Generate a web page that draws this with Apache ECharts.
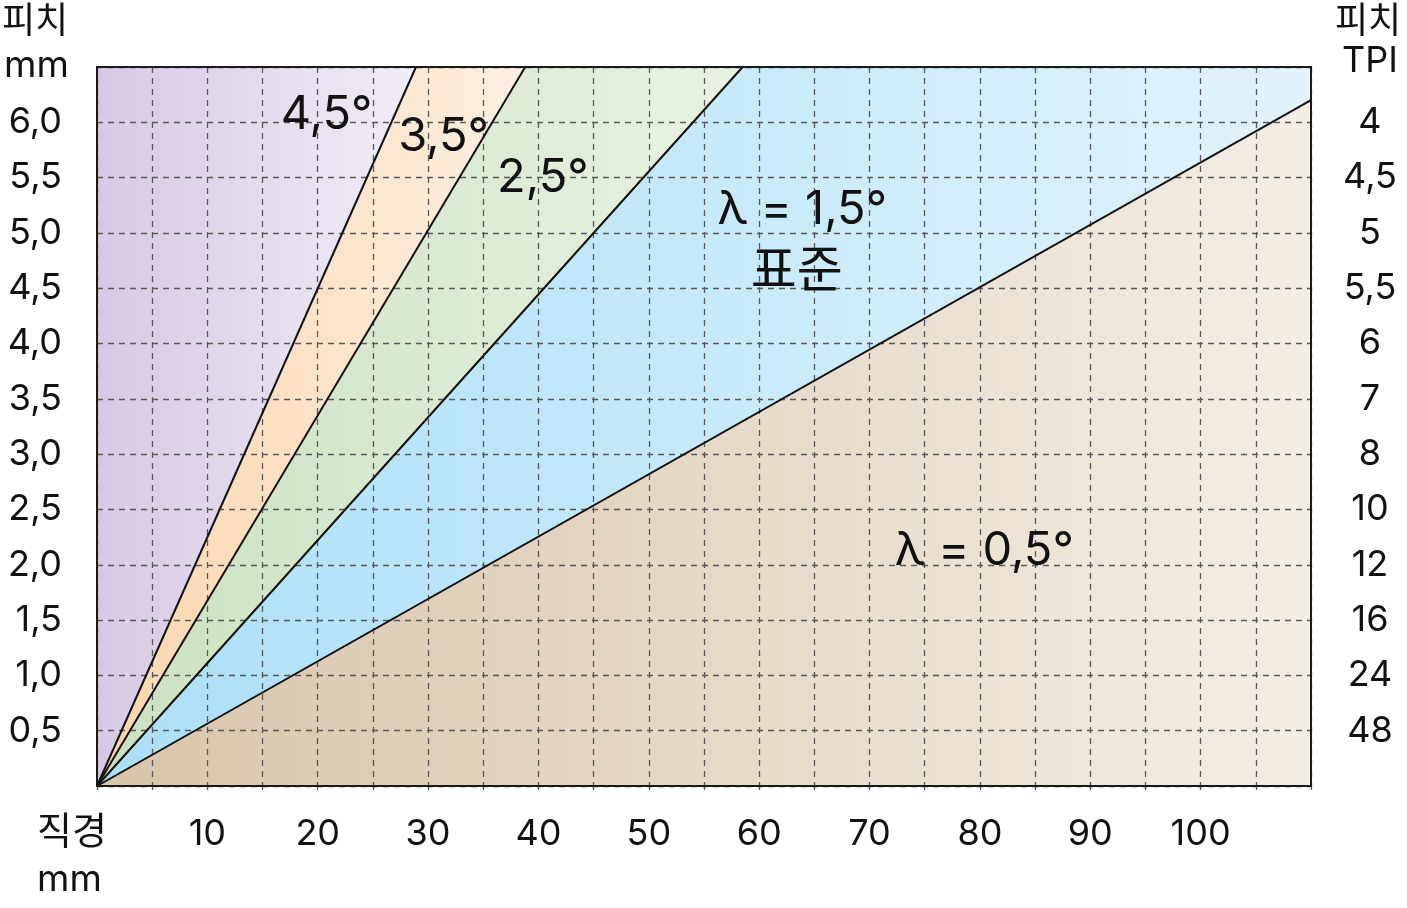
<!DOCTYPE html>
<html><head><meta charset="utf-8">
<script src="https://cdn.jsdelivr.net/npm/echarts@6/dist/echarts.min.js"></script>
<style>html,body{margin:0;padding:0;background:#fff}#c{width:1407px;height:908px}</style>
</head><body><div id="c"></div>
<script>
// ---- data ----
const X_MAX = 110;
const Y_MAX = 6.5;
const xTickValues = [10, 20, 30, 40, 50, 60, 70, 80, 90, 100];
const pitchTicks = [0.5, 1.0, 1.5, 2.0, 2.5, 3.0, 3.5, 4.0, 4.5, 5.0, 5.5, 6.0];
const pitchLabels = ['0,5', '1,0', '1,5', '2,0', '2,5', '3,0', '3,5', '4,0', '4,5', '5,0', '5,5', '6,0'];
const tpiLabels = ['48', '24', '16', '12', '10', '8', '7', '6', '5,5', '5', '4,5', '4'];
const angleNames = ['4,5°', '3,5°', '2,5°', '1,5°'];
const angleLineEnds = [[28.9, 6.5], [38.8, 6.5], [58.5, 6.5], [110, 6.2]];
const annotationTexts = ['4,5°', '3,5°', '2,5°', 'λ = 1,5°', '표준', 'λ = 0,5°'];
const annotationAt = [[20.8, 6.07], [31.4, 5.87], [40.4, 5.50], [63.9, 5.21], [63.4, 4.68], [80.4, 2.13]];

// ---- derived ----
const O = [0, 0];
const regionPolys = [
  [O, angleLineEnds[0], [0, Y_MAX]],
  [O, angleLineEnds[1], angleLineEnds[0]],
  [O, angleLineEnds[2], angleLineEnds[1]],
  [O, angleLineEnds[3], [X_MAX, Y_MAX], angleLineEnds[2]],
  [O, [X_MAX, 0], angleLineEnds[3]]
];
const regionColors = [
  ['#d7c9e3', '#f1edf7'],
  ['#fcd5ad', '#fdf0e1'],
  ['#cae1bf', '#e9f2e3'],
  ['#abdff8', '#e2f3fc'],
  ['#d8c5aa', '#f3ede4']
];
const FONT = "Inter, Lato, 'Noto Sans CJK KR', sans-serif";
const KFONT = "'Noto Sans CJK KR', Inter, sans-serif";

const chart = echarts.init(document.getElementById('c'), null, {renderer: 'canvas'});

const gridLine = {show: true, lineStyle: {color: '#5a5a5a', width: 1.3, type: [6, 5]}};

const lineSeries = angleNames.map((n, i) => ({
  type: 'line', name: n, z: 4, symbol: 'none', silent: true,
  data: [O, angleLineEnds[i]],
  lineStyle: {color: '#111', width: 2}
}));

const option = {
  animation: false,
  backgroundColor: '#fff',
  grid: {left: 97, top: 67, right: 96, bottom: 122, show: true, z: 10,
         backgroundColor: 'transparent', borderColor: '#1a1a1a', borderWidth: 2},
  xAxis: {
    type: 'value', min: 0, max: X_MAX, interval: 5, z: 3,
    axisLine: {show: false},
    axisTick: {show: true, length: 4, lineStyle: {color: '#5a5a5a', width: 1.3}},
    splitLine: gridLine,
    axisLabel: {
      margin: 30, color: '#111', fontSize: 36, fontFamily: FONT,
      formatter: v => xTickValues.indexOf(v) >= 0 ? String(v) : ''
    }
  },
  yAxis: [{
    type: 'value', min: 0, max: Y_MAX, interval: 0.5, z: 3,
    axisLine: {show: false}, axisTick: {show: false},
    splitLine: gridLine,
    axisLabel: {
      margin: 35, color: '#111', fontSize: 36, fontFamily: FONT,
      formatter: v => { const k = pitchTicks.findIndex(t => Math.abs(t - v) < 1e-6); return k >= 0 ? pitchLabels[k] : ''; }
    }
  }, {
    type: 'value', min: 0, max: Y_MAX, interval: 0.5, position: 'right', z: 3,
    axisLine: {show: false}, axisTick: {show: false}, splitLine: {show: false},
    axisLabel: {
      margin: 59, align: 'center', color: '#111', fontSize: 36, fontFamily: FONT,
      formatter: v => { const k = pitchTicks.findIndex(t => Math.abs(t - v) < 1e-6); return k >= 0 ? tpiLabels[k] : ''; }
    }
  }],
  graphic: [
    {type: 'text', left: 2, top: 1, z: 20, style: {text: '피치', fontSize: 36, fontFamily: KFONT, fill: '#111'}},
    {type: 'text', left: 4, top: 47, z: 20, style: {text: 'mm', fontSize: 37, fontFamily: FONT, fill: '#111'}},
    {type: 'text', left: 1335, top: 1, z: 20, style: {text: '피치', fontSize: 36, fontFamily: KFONT, fill: '#111'}},
    {type: 'text', left: 1342, top: 43, z: 20, style: {text: 'TPI', fontSize: 36, fontFamily: FONT, fill: '#111'}},
    {type: 'text', left: 37, top: 811, z: 20, style: {text: '직경', fontSize: 38, fontFamily: KFONT, fill: '#111'}},
    {type: 'text', left: 37, top: 861, z: 20, style: {text: 'mm', fontSize: 37, fontFamily: FONT, fill: '#111'}}
  ],
  series: [{
    type: 'custom', z: 1, silent: true,
    data: regionPolys.map(() => [0, 0]),
    renderItem: function (params, api) {
      const i = params.dataIndex;
      const pts = regionPolys[i].map(p => api.coord(p));
      return {
        type: 'polygon', shape: {points: pts},
        style: {fill: new echarts.graphic.LinearGradient(0, 0, 1, 0, [
          {offset: 0, color: regionColors[i][0]}, {offset: 1, color: regionColors[i][1]}])}
      };
    }
  }].concat(lineSeries).concat([{
    type: 'custom', z: 8, silent: true,
    data: annotationAt,
    renderItem: function (params, api) {
      const i = params.dataIndex;
      const p = api.coord(annotationAt[i]);
      const kor = annotationTexts[i] === '표준';
      return {
        type: 'text', x: p[0], y: p[1],
        style: {text: annotationTexts[i], fontSize: kor ? 50 : 47, fontFamily: kor ? KFONT : FONT,
                fill: '#111', align: 'center', verticalAlign: 'middle'}
      };
    }
  }])
};
chart.setOption(option);
</script></body></html>
